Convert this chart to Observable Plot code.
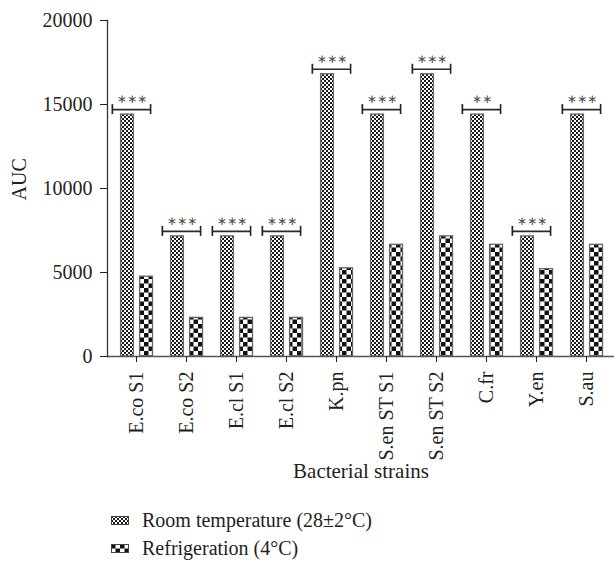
<!DOCTYPE html>
<html><head><meta charset="utf-8">
<script src="https://cdn.jsdelivr.net/npm/d3@7"></script>
<script src="https://cdn.jsdelivr.net/npm/@observablehq/plot@0.6"></script>
<style>
body{margin:0;background:#fff;font-family:"Liberation Serif","DejaVu Serif",serif;}
#chart{width:614px;height:495px;}
.legend{margin-top:11px;margin-left:111px;font-size:20px;color:#231f20;font-family:"Liberation Serif","DejaVu Serif",serif;}
.legend .row{display:flex;align-items:center;height:28px;}
.legend svg{margin-right:13px;}
</style></head><body>
<svg width="0" height="0" style="position:absolute">
<defs>
<pattern id="fine" width="4" height="4" patternUnits="userSpaceOnUse"><rect width="4" height="4" fill="#fff"/><rect width="2" height="2" fill="#1a1a1a"/><rect x="2" y="2" width="2" height="2" fill="#1a1a1a"/></pattern>
<pattern id="coarse" width="9" height="9" patternUnits="userSpaceOnUse"><rect width="9" height="9" fill="#fff"/><rect width="4.5" height="4.5" fill="#111"/><rect x="4.5" y="4.5" width="4.5" height="4.5" fill="#111"/></pattern>
</defs></svg>
<div id="chart"></div>
<div class="legend" id="legend"></div>
<script>
const strains = ["E.co S1","E.co S2","E.cl S1","E.cl S2","K.pn","S.en ST S1","S.en ST S2","C.fr","Y.en","S.au"];
const roomTemp = [14400, 7150, 7150, 7150, 16800, 14400, 16800, 14400, 7150, 14400];
const refrigeration = [4750, 2300, 2300, 2300, 5250, 6650, 7150, 6650, 5200, 6650];
const significance = ["***","***","***","***","***","***","***","**","***","***"];
const yTicks = [0, 5000, 10000, 15000, 20000];
const seriesNames = ["Room temperature (28\u00b12\u00b0C)", "Refrigeration (4\u00b0C)"];

const roomData = strains.map((s,i)=>({strain:s, value:roomTemp[i], sig:significance[i].replace(/\*/g,"\u2217")}));
const refData = strains.map((s,i)=>({strain:s, value:refrigeration[i]}));

const ink = "#231f20";
const serif = '"Liberation Serif","DejaVu Serif",serif';
const chart = Plot.plot({
  width:614, height:495,
  marginLeft:107, marginRight:0, marginTop:20, marginBottom:139,
  style:{fontFamily:serif, fontSize:"20px", color:ink, background:"#fff"},
  x:{domain:strains, padding:0, label:null},
  y:{domain:[0,20000], label:null},
  marks:[
    Plot.barY(roomData, {x:"strain", y:"value", fill:"url(#fine)", stroke:"#666", strokeWidth:1.3, insetLeft:9.6, insetRight:27.6}),
    Plot.barY(refData, {x:"strain", y:"value", fill:"url(#coarse)", stroke:"#666", strokeWidth:1.3, insetLeft:28.6, insetRight:8.5}),
    Plot.ruleY([0], {stroke:"#555", strokeWidth:1.5}),
    Plot.frame({anchor:"left", stroke:"#333", strokeWidth:1.3}),
    Plot.axisY({ticks:yTicks, tickSize:7, tickPadding:8, tickFormat:"d", label:null, fontSize:20, fontFamily:serif}),
    Plot.axisX({tickRotate:-90, tickSize:6, tickPadding:9, label:null, fontSize:20, fontFamily:serif}),
    Plot.tickY(roomData, {x:"strain", y:"value", dy:-5, insetLeft:1.5, insetRight:10.7, stroke:"#2a2a2a", strokeWidth:1.7}),
    Plot.barY(roomData, {x:"strain", y1:"value", y2:"value", dy:-5, insetTop:-5, insetBottom:-5, insetLeft:0.5, insetRight:47.8, fill:"#222"}),
    Plot.barY(roomData, {x:"strain", y1:"value", y2:"value", dy:-5, insetTop:-5, insetBottom:-5, insetLeft:38.8, insetRight:9.6, fill:"#222"}),
    Plot.text(roomData, {x:"strain", y:"value", text:"sig", dx:-4.6, dy:-15, fontSize:12, fontFamily:"DejaVu Sans", fill:"#4a4a4a"}),
    Plot.text(["AUC"], {frameAnchor:"left", rotate:-90, dx:-87.5, dy:12, fontSize:20, fontFamily:serif, fill:ink}),
    Plot.text(["Bacterial strains"], {frameAnchor:"bottom", dy:121, fontSize:21, fontFamily:serif, fill:ink})
  ]
});
document.getElementById("chart").appendChild(chart);

const legend = document.getElementById("legend");
["fine","coarse"].forEach((p,i)=>{
  const row = document.createElement("div");
  row.className = "row";
  row.innerHTML = `<svg width="18" height="9"><rect x="0.5" y="0.5" width="17" height="8" fill="url(#${p})" stroke="#444" stroke-width="1"/></svg><span>${seriesNames[i]}</span>`;
  legend.appendChild(row);
});
</script>
</body></html>
